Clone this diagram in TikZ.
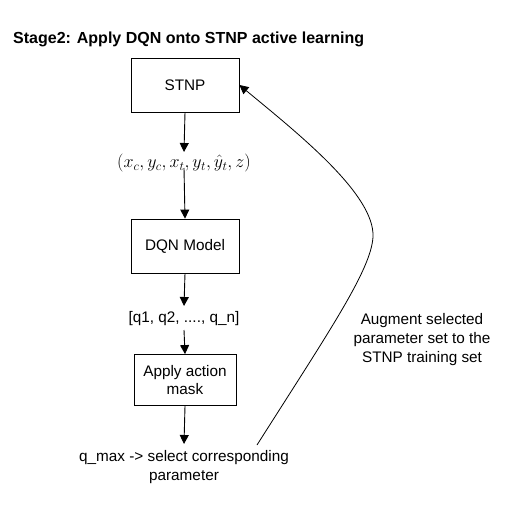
\documentclass[tikz,border=0pt]{standalone}
\usepackage{fix-cm}
\usepackage{fontspec}
\setmainfont{Liberation Sans}
\usepackage{amsmath}
\usetikzlibrary{arrows.meta}
\begin{document}
\begin{tikzpicture}[x=1pt,y=-1pt,
  box/.style={draw,thick,fill=white,inner sep=0pt,align=center,font=\fontsize{15.3}{18}\selectfont},
  lbl/.style={inner sep=1pt,align=center,font=\fontsize{15.3}{19}\selectfont},
  arr/.style={-{Triangle[width=9pt,length=9pt]},line width=0.9pt}]
\useasboundingbox (0,0) rectangle (512,511);
\node[anchor=west,font=\bfseries\fontsize{16}{18}\selectfont,inner sep=0pt] (title) at (13,39) {Stage2: Apply DQN onto STNP active learning};
\node[box,minimum width=108pt,minimum height=54pt] (stnp) at (185,85) {STNP};
\node[inner sep=0pt,font=\fontsize{18}{20}\selectfont] (xs) at (184,163) {$(x_c,y_c,x_t,y_t,\hat{y}_t,z)$};
\node[box,minimum width=108pt,minimum height=54pt] (dqn) at (185,246) {DQN Model};
\node[lbl] (q) at (184,319) {[q1, q2, ...., q\_n]};
\node[box,minimum width=102pt,minimum height=51pt] (mask) at (185,380) {Apply action\\mask};
\node[lbl] (qmax) at (184,467) {q\_max -> select corresponding\\parameter};
\node[lbl] (aug) at (422,340) {Augment selected\\parameter set to the\\STNP training set};
\coordinate (bend) at (373,237);
\coordinate (start) at (257,445);
\coordinate (xsb) at (184,168);
\draw[arr] (stnp.south) -- (184,152);
\draw[arr] (xsb) -- (dqn.north);
\draw[arr] (dqn.south) -- (184,306);
\draw[arr] (184,330) -- (mask.north);
\draw[arr] (mask.south) -- (184,444);
\draw[arr,line width=0.8pt] (start) .. controls (330,330) and (371,270) .. (bend) .. controls (375,195) and (300,135) .. (stnp.east);
\end{tikzpicture}
\end{document}
